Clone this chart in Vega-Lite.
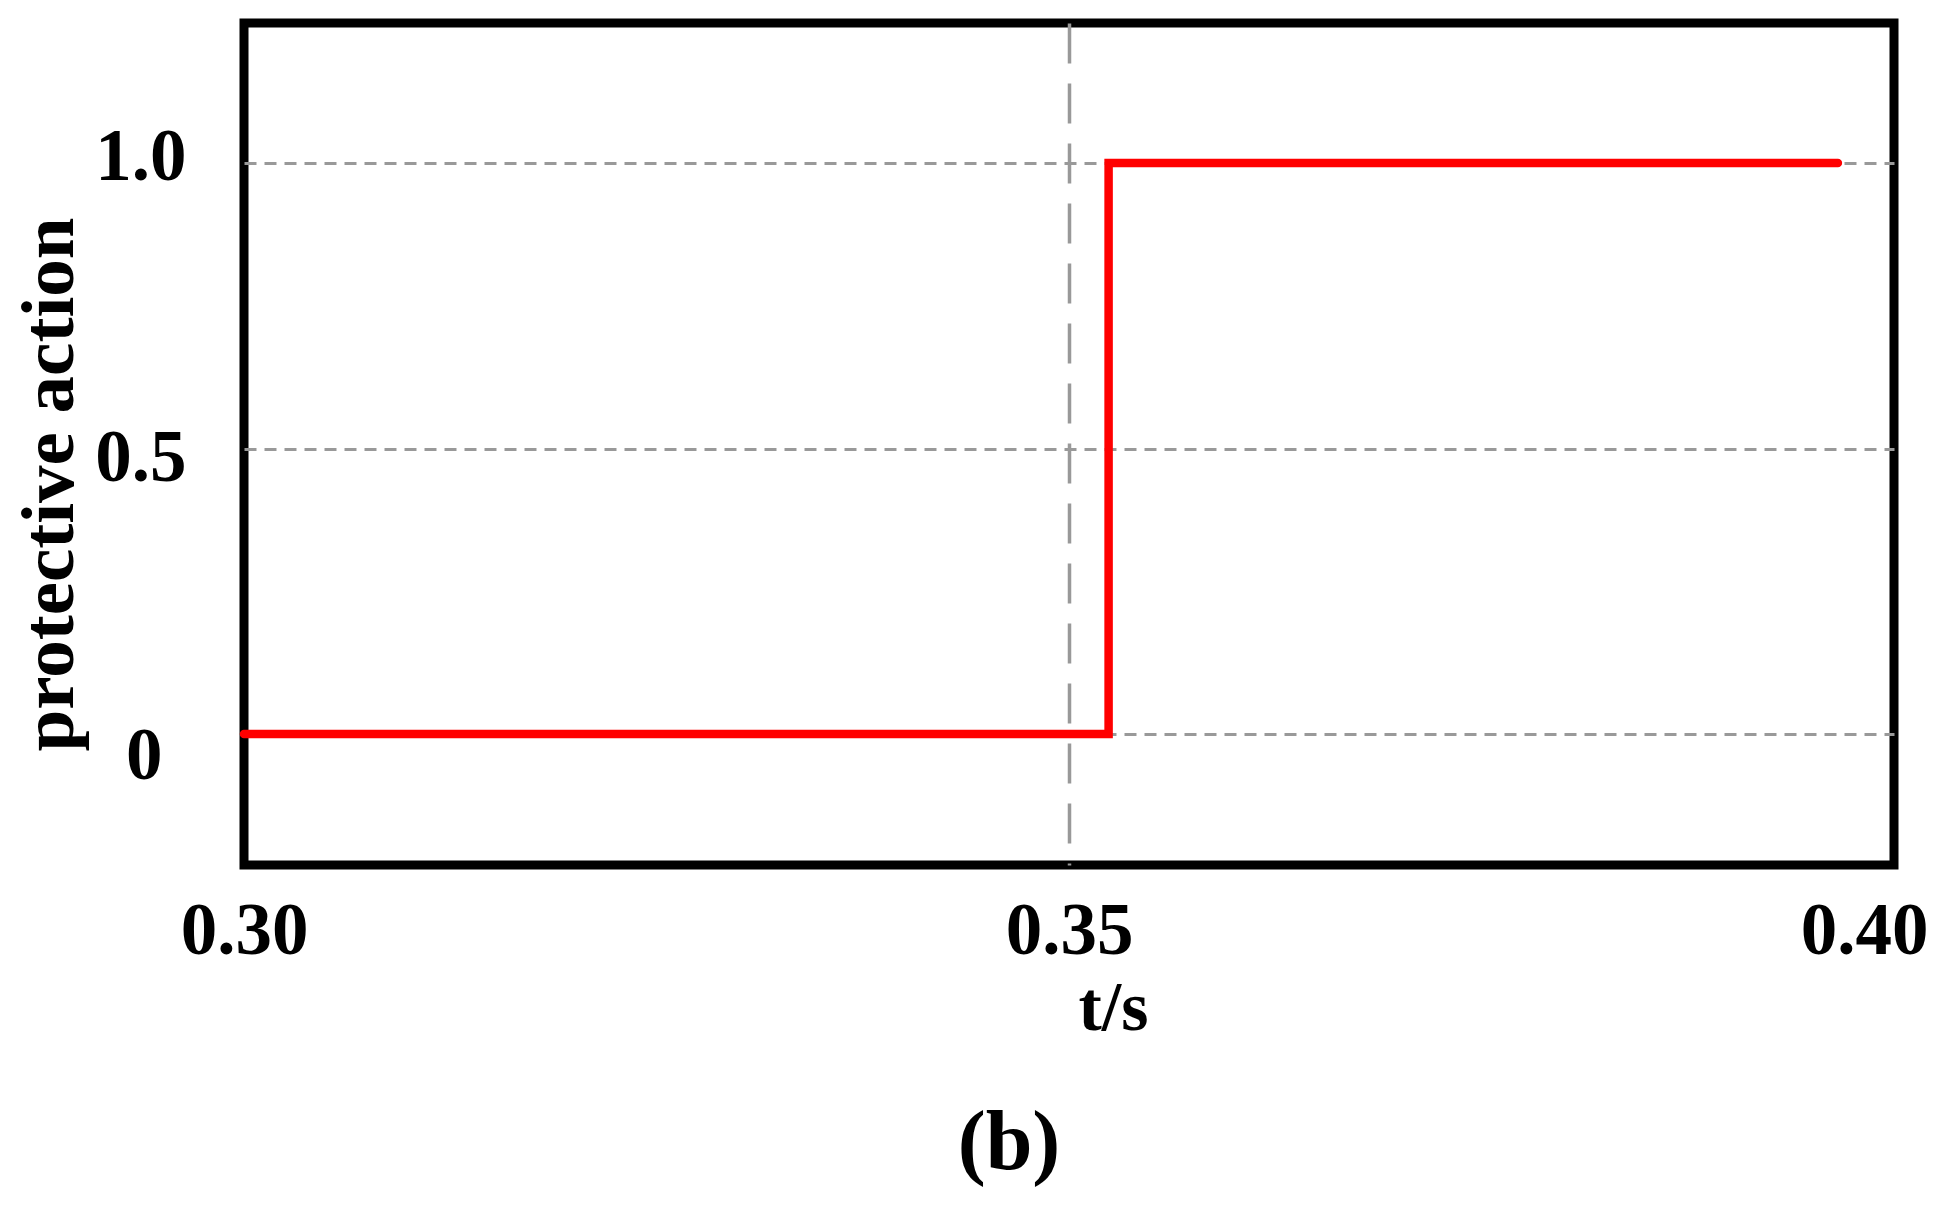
{
  "$schema": "https://vega.github.io/schema/vega-lite/v6.json",
  "width": 1650,
  "height": 842,
  "autosize": {"type": "none"},
  "padding": {"left": 244, "top": 23, "right": 51, "bottom": 344},
  "background": "white",
  "config": {
    "view": {"stroke": "black", "strokeWidth": 9},
    "font": "Liberation Serif"
  },
  "title": {
    "text": "(b)",
    "orient": "bottom",
    "anchor": "middle",
    "dx": -60,
    "offset": 60,
    "fontSize": 84,
    "fontWeight": "bold",
    "font": "Liberation Serif",
    "color": "black"
  },
  "data": {
    "values": [
      {"t": 0.30, "action": 0, "step": 1},
      {"t": 0.3524, "action": 0, "step": 2},
      {"t": 0.3524, "action": 1, "step": 3},
      {"t": 0.3966, "action": 1, "step": 4}
    ]
  },
  "mark": {"type": "line", "color": "#ff0000", "strokeWidth": 8.5, "strokeCap": "round", "strokeJoin": "miter", "clip": false},
  "encoding": {
    "order": {"field": "step", "type": "quantitative"},
    "x": {
      "field": "t",
      "type": "quantitative",
      "scale": {"domain": [0.30, 0.40], "nice": false, "zero": false},
      "axis": {
        "values": [0.30, 0.35, 0.40],
        "format": ".2f",
        "title": "t/s",
        "titleFont": "Liberation Serif",
        "titleFontSize": 70,
        "titleFontWeight": "bold",
        "titleColor": "black",
        "titleX": 869,
        "titleY": 164,
        "titleAlign": "center",
        "titleBaseline": "alphabetic",
        "labelFont": "Liberation Serif",
        "labelFontSize": 73,
        "labelFontWeight": "bold",
        "labelColor": "black",
        "labelBaseline": "alphabetic",
        "labelAlign": "center",
        "labelPadding": 88,
        "labelFlush": false,
        "labelOverlap": false,
        "labelOffset": {"condition": {"test": "datum.value > 0.39", "value": -30}, "value": 0},
        "domain": false,
        "ticks": false,
        "grid": true,
        "gridColor": "#999999",
        "gridWidth": 3.5,
        "gridDash": [40, 20],
        "gridOpacity": {"condition": {"test": "datum.value > 0.34 && datum.value < 0.36", "value": 1}, "value": 0}
      }
    },
    "y": {
      "field": "action",
      "type": "quantitative",
      "scale": {"domain": [-0.2294, 1.2452], "nice": false, "zero": false},
      "axis": {
        "values": [0, 0.5, 1],
        "labelExpr": "datum.value == 0 ? '0' : format(datum.value, '.1f')",
        "title": "protective action",
        "titleFont": "Liberation Serif",
        "titleFontSize": 75,
        "titleFontWeight": "bold",
        "titleColor": "black",
        "titleAngle": -90,
        "titleX": -172,
        "titleY": 461,
        "titleAlign": "center",
        "titleBaseline": "alphabetic",
        "labelFont": "Liberation Serif",
        "labelFontSize": 73,
        "labelFontWeight": "bold",
        "labelColor": "black",
        "labelAlign": "right",
        "labelPadding": {"condition": {"test": "datum.value == 0", "value": 82}, "value": 58},
        "labelOffset": {"condition": [{"test": "datum.value == 0", "value": 22}, {"test": "datum.value == 0.5", "value": 10}], "value": -6},
        "labelOverlap": false,
        "domain": false,
        "ticks": false,
        "grid": true,
        "gridColor": "#999999",
        "gridWidth": 3,
        "gridDash": [12, 8]
      }
    }
  }
}
